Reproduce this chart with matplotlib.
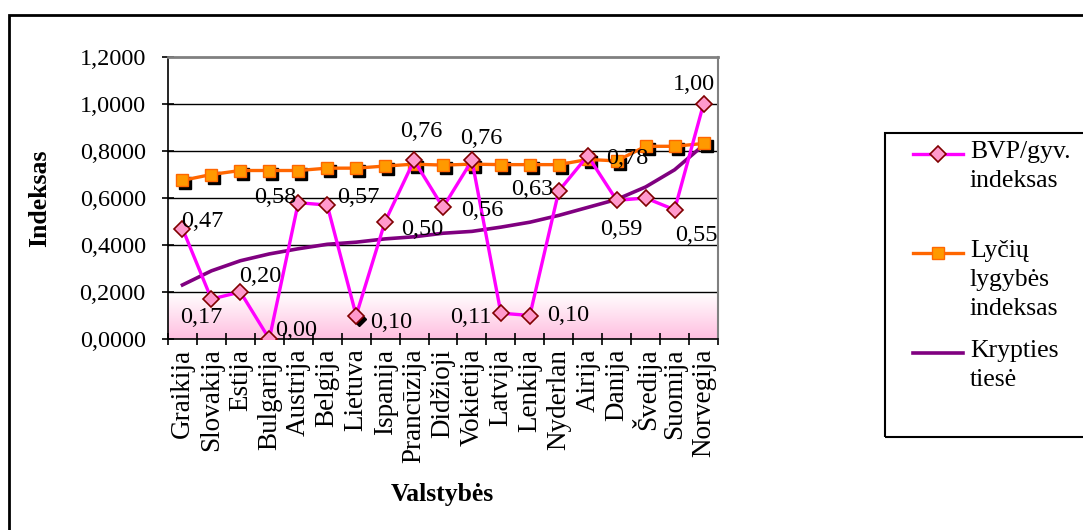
import matplotlib
matplotlib.use("Agg")
import matplotlib.pyplot as plt
import matplotlib.transforms as mtransforms
from matplotlib.lines import Line2D
from matplotlib.patches import Rectangle
from matplotlib.colors import LinearSegmentedColormap
import numpy as np

plt.rcParams["font.family"] = ["Liberation Serif", "DejaVu Serif"]

# data
countries = ["Graikija", "Slovakija", "Estija", "Bulgarija", "Austrija", "Belgija",
             "Lietuva", "Ispanija", "Prancūzija", "Didžioji", "Vokietija", "Latvija",
             "Lenkija", "Nyderlan", "Airija", "Danija", "Švedija", "Suomija", "Norvegija"]
bvp_index = [0.47, 0.17, 0.20, 0.00, 0.58, 0.57, 0.10, 0.50, 0.76, 0.56,
             0.76, 0.11, 0.10, 0.63, 0.78, 0.59, 0.60, 0.55, 1.00]
gender_index = [0.675, 0.700, 0.717, 0.717, 0.717, 0.727, 0.727, 0.736, 0.744, 0.740,
                0.744, 0.742, 0.742, 0.742, 0.764, 0.758, 0.820, 0.820, 0.832]
trend = [0.23, 0.29, 0.333, 0.362, 0.384, 0.403, 0.412, 0.426, 0.435, 0.45,
         0.458, 0.476, 0.497, 0.526, 0.56, 0.594, 0.647, 0.72, 0.825]
shown_labels = [True] * 16 + [False, True, True]
yticks = [0.0, 0.2, 0.4, 0.6, 0.8, 1.0, 1.2]

# label offsets in pixels (style only)
label_offsets = [(20, 7), (-10, -18), (20, 16), (27, 9), (-23, 5), (31, 8), (35, -7),
                 (37, -8), (7, 29), (39, -3), (9, 22), (-30, -4), (38, 0), (-27, 1),
                 (40, -3), (5, -29), (0, 0), (22, -26), (-10, 20)]

W, H = 1083, 530
fig = plt.figure(figsize=(W / 100, H / 100), dpi=100)
ax = fig.add_axes([168 / W, 1 - 339 / H, 550 / W, 282 / H])

x = np.arange(len(countries))

# pink gradient band 0..0.2
grad = np.linspace(0, 1, 100).reshape(-1, 1)
cmap = LinearSegmentedColormap.from_list("pinkband", ["#ffbfe0", "#ffffff"])
ax.imshow(grad, cmap=cmap, aspect="auto", extent=[-0.5, len(x) - 0.5, 0, 0.2],
          origin="lower", zorder=0)

for yv in yticks[1:-1]:
    ax.axhline(yv, color="black", lw=1.0, zorder=1)

# trend line
ax.plot(x, trend, color="#800080", lw=2.6, zorder=3)

# orange series with black shadow squares
shadow = mtransforms.offset_copy(ax.transData, fig=fig, x=3, y=-3, units="dots")
ax.plot(x, gender_index, ls="none", marker="s", ms=9, color="black", transform=shadow, zorder=3)
ax.plot(x, gender_index, color="#ff6600", lw=2.4, marker="s", ms=9,
        mfc="#ff9900", mec="#ff6600", mew=1.0, zorder=4)

# BVP series (shadow diamond at Lietuva as in reference)
ax.plot(x[6], bvp_index[6], ls="none", marker="D", ms=7, color="black", transform=shadow, zorder=4)
ax.plot(x, bvp_index, color="#ff00ff", lw=2.4, marker="D", ms=8,
        mfc="#ff99cc", mec="#800000", mew=1.2, zorder=5)

for i, (xv, yv) in enumerate(zip(x, bvp_index)):
    if not shown_labels[i]:
        continue
    dx, dy = label_offsets[i]
    ax.annotate(f"{yv:.2f}".replace(".", ","), (xv, yv), xytext=(dx, dy),
                textcoords="offset pixels", ha="center", va="center",
                fontsize=17.5, zorder=6)

ax.set_xlim(-0.5, len(x) - 0.5)
ax.set_ylim(0, 1.2)
ax.set_yticks(yticks)
ax.set_yticklabels([f"{v:.4f}".replace(".", ",") for v in yticks], fontsize=17.5)
ax.set_xticks(x)
ax.set_xticklabels(countries, rotation=90, fontsize=19.5)
ax.set_xticks(np.arange(len(x) + 1) - 0.5, minor=True)
ax.tick_params(axis="x", which="major", length=0, pad=7)
ax.tick_params(axis="x", which="minor", length=8, direction="inout", width=1.2)
ax.tick_params(axis="y", length=8, direction="inout", width=1.2, pad=12)
ax.spines["top"].set_color("#808080")
ax.spines["right"].set_color("#808080")
ax.spines["top"].set_linewidth(2)
ax.spines["right"].set_linewidth(1.5)
ax.spines["left"].set_linewidth(1.2)
ax.spines["bottom"].set_linewidth(1.2)

fig.text(40 / W, 1 - 198 / H, "Indeksas", rotation=90, ha="center", va="center",
         fontsize=18.5, fontweight="bold")
fig.text(442 / W, 1 - 494 / H, "Valstybės", ha="center", va="center",
         fontsize=18.5, fontweight="bold")

# outer chart frame
fig.patches.append(Rectangle((9 / W, -0.1), 1.2, 1.1 - 15 / H, transform=fig.transFigure,
                             fill=False, ec="black", lw=2))

# legend box
fig.patches.append(Rectangle((885 / W, 1 - 437 / H), 0.3, (437 - 133) / H,
                             transform=fig.transFigure, fill=False, ec="black", lw=1.5))
legend_items = [
    (dict(color="#ff00ff", lw=2.4), dict(marker="D", ms=8, mfc="#ff99cc", mec="#800000", mew=1.2),
     "BVP/gyv.\nindeksas", 154),
    (dict(color="#ff6600", lw=2.4), dict(marker="s", ms=9, mfc="#ff9900", mec="#ff6600", mew=1.0),
     "Lyčių\nlygybės\nindeksas", 253),
    (dict(color="#800080", lw=2.6), None, "Krypties\ntiesė", 353),
]
for line_style, marker_style, text, ypix in legend_items:
    fy = 1 - ypix / H
    fig.lines.append(Line2D([913 / W, 963 / W], [fy, fy], transform=fig.transFigure, **line_style))
    if marker_style:
        fig.lines.append(Line2D([938 / W], [fy], transform=fig.transFigure, ls="none", **marker_style))
    fig.text(970 / W, fy + 13 / H, text, ha="left", va="top", fontsize=18.5, linespacing=1.42)

fig.savefig("out.png", dpi=100)
